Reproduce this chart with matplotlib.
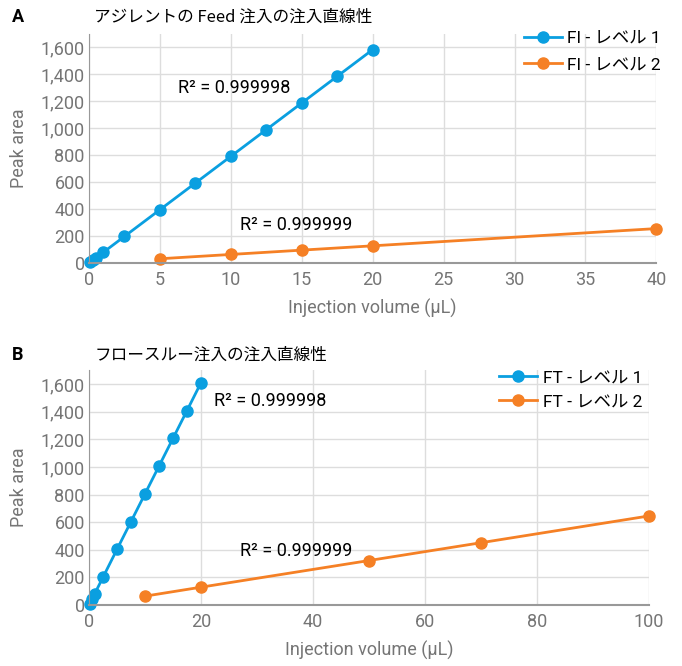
import matplotlib
matplotlib.use("Agg")
import matplotlib.pyplot as plt
from matplotlib.ticker import FuncFormatter, MultipleLocator

plt.rcParams['font.family'] = ['Roboto', 'Noto Sans CJK JP', 'DejaVu Sans']

# panel A - Feed injection
fi1_x = [0.1, 0.25, 0.5, 1, 2.5, 5, 7.5, 10, 12.5, 15, 17.5, 20]
fi1_y = [8, 20, 40, 79, 198, 396, 594, 792, 990, 1188, 1386, 1584]
fi2_x = [5, 10, 15, 20, 40]
fi2_y = [32, 64, 96, 128, 256]

# panel B - flow through injection
ft1_x = [0.1, 0.5, 1, 2.5, 5, 7.5, 10, 12.5, 15, 17.5, 20]
ft1_y = [8, 40, 80, 201, 403, 604, 805, 1006, 1207, 1408, 1610]
ft2_x = [10, 20, 50, 70, 100]
ft2_y = [64, 129, 322, 451, 645]

blue = '#0a9fe0'
orange = '#f58025'
gray = '#757575'

fig = plt.figure(figsize=(6.82, 6.66), dpi=100)

def setup(ax, xmax, xstep):
    ax.set_xlim(0, xmax)
    ax.set_ylim(0, 1700)
    ax.xaxis.set_major_locator(MultipleLocator(xstep))
    ax.yaxis.set_major_locator(MultipleLocator(200))
    ax.yaxis.set_major_formatter(FuncFormatter(lambda v, p: f'{int(v):,}'))
    ax.grid(True, color='#dddddd', linewidth=1)
    ax.set_axisbelow(True)
    for s in ['top', 'right']:
        ax.spines[s].set_visible(False)
    ax.spines['left'].set_color('#999999')
    ax.spines['bottom'].set_color('#999999')
    ax.spines['bottom'].set_linewidth(1.5)
    ax.tick_params(length=0, labelsize=13, labelcolor=gray, pad=3)
    ax.tick_params(axis='x', pad=6)
    ax.set_xlabel('Injection volume (µL)', fontsize=13, color=gray, labelpad=7)
    ax.set_ylabel('Peak area', fontsize=13, color=gray, labelpad=9)

# panel A
axA = fig.add_axes([0.1305, 0.605, 0.832, 0.344])
setup(axA, 40, 5)
axA.plot(fi1_x, fi1_y, '-o', color=blue, lw=2, ms=8, label='FI - レベル 1', clip_on=False)
axA.plot(fi2_x, fi2_y, '-o', color=orange, lw=2, ms=8, label='FI - レベル 2', clip_on=False)
axA.text(6.3, 1296, 'R² = 0.999998', fontsize=13, va='center')
axA.text(10.65, 281, 'R² = 0.999999', fontsize=13, va='center')
axA.legend(loc='upper right', bbox_to_anchor=(1.02, 1.045), frameon=False, fontsize=12.5,
           handlelength=2.2, handletextpad=0.3, labelspacing=0.65, borderaxespad=0)
fig.text(0.018, 0.974, 'A', fontsize=13, fontweight='bold', va='center')
fig.text(0.138, 0.974, 'アジレントの Feed 注入の注入直線性', fontsize=12, va='center',
         family=['Noto Sans CJK JP', 'Roboto'])

# panel B
axB = fig.add_axes([0.1305, 0.0916, 0.821, 0.3524])
setup(axB, 100, 20)
axB.plot(ft1_x, ft1_y, '-o', color=blue, lw=2, ms=8, label='FT - レベル 1', clip_on=False)
axB.plot(ft2_x, ft2_y, '-o', color=orange, lw=2, ms=8, label='FT - レベル 2', clip_on=False)
axB.text(22.3, 1477, 'R² = 0.999998', fontsize=13, va='center')
axB.text(27, 389, 'R² = 0.999999', fontsize=13, va='center')
axB.legend(loc='upper right', bbox_to_anchor=(1.0, 1.03), frameon=False, fontsize=12.5,
           handlelength=2.2, handletextpad=0.3, labelspacing=0.5, borderaxespad=0)
fig.text(0.018, 0.467, 'B', fontsize=13, fontweight='bold', va='center')
fig.text(0.138, 0.467, 'フロースルー注入の注入直線性', fontsize=12, va='center',
         family=['Noto Sans CJK JP', 'Roboto'])

fig.savefig('out.png', dpi=100)
